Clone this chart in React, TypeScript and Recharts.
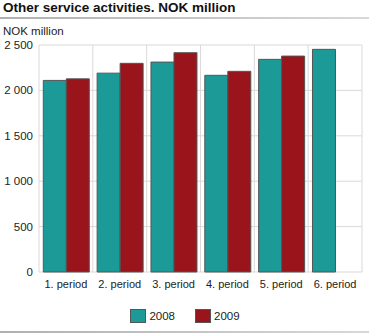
import React from "react";
import {
  BarChart,
  Bar,
  XAxis,
  YAxis,
  CartesianGrid,
  Legend,
} from "recharts";

const periods = ["1. period", "2. period", "3. period", "4. period", "5. period", "6. period"];
const values2008 = [2110, 2190, 2312, 2166, 2342, 2452];
const values2009: (number | null)[] = [2127, 2298, 2415, 2210, 2378, null];
const yTicks = [0, 500, 1000, 1500, 2000, 2500];

const data = periods.map((p, i) => ({
  period: p,
  y2008: values2008[i],
  y2009: values2009[i],
}));

const TEAL = "#1c9a98";
const RED = "#9a141c";
const FONT = "'Liberation Sans', Arial, sans-serif";

const fmt = (v: number) => String(v).replace(/\B(?=(\d{3})+(?!\d))/g, " ");

// grid lines sit on the category borders, not the centres
const verticalLines = ({ offset }: any) =>
  periods.map((_, i) => offset.left + (i * offset.width) / periods.length).concat([offset.left + offset.width]);

const renderLegend = () => (
  <div style={{ display: "flex", justifyContent: "center", gap: 20, fontFamily: FONT, fontSize: 11.5, color: "#222", paddingLeft: 8 }}>
    {[["2008", TEAL], ["2009", RED]].map(([name, c]) => (
      <div key={name} style={{ display: "flex", alignItems: "center", gap: 3 }}>
        <span style={{ width: 16, height: 14, background: c, border: "1px solid #555", boxSizing: "border-box", display: "inline-block" }} />
        <span>{name}</span>
      </div>
    ))}
  </div>
);

export default function App() {
  return (
    <div style={{ position: "absolute", left: 0, top: 0, width: 369, height: 336, background: "#fff", fontFamily: FONT }}>
      <div style={{ position: "absolute", left: 3, top: 0, fontSize: 13.5, fontWeight: "bold", color: "#111" }}>
        Other service activities. NOK million
      </div>
      <div style={{ position: "absolute", left: 0, top: 17, width: 369, height: 2, background: "linear-gradient(to right, #b0b0b0, #d8d8d8)" }} />
      <div style={{ position: "absolute", left: 3, top: 25, fontSize: 11.5, color: "#222" }}>NOK million</div>
      <div style={{ position: "absolute", left: 0, top: 331, width: 369, height: 2, background: "linear-gradient(to right, #b0b0b0, #d8d8d8)" }} />
      <BarChart
        width={369}
        height={336}
        data={data}
        margin={{ top: 45, right: 7, bottom: 7, left: 0 }}
        barCategoryGap="8%"
        barGap={0}
      >
        <CartesianGrid stroke="#d9d9d9" verticalCoordinatesGenerator={verticalLines} />
        <XAxis
          dataKey="period"
          axisLine={false}
          tickLine={false}
          height={37}
          tick={{ fontSize: 11, fill: "#222", fontFamily: FONT }}
          interval={0}
        />
        <YAxis
          width={39}
          domain={[0, 2500]}
          ticks={yTicks}
          axisLine={false}
          tickLine={false}
          tickFormatter={fmt}
          tick={{ fontSize: 11.5, fill: "#222", fontFamily: FONT }}
          tickMargin={0}
        />
        <Legend verticalAlign="bottom" content={renderLegend} height={20} />
        <Bar dataKey="y2008" name="2008" fill={TEAL} stroke="#555" strokeWidth={1} isAnimationActive={false} />
        <Bar dataKey="y2009" name="2009" fill={RED} stroke="#555" strokeWidth={1} isAnimationActive={false} />
      </BarChart>
    </div>
  );
}
